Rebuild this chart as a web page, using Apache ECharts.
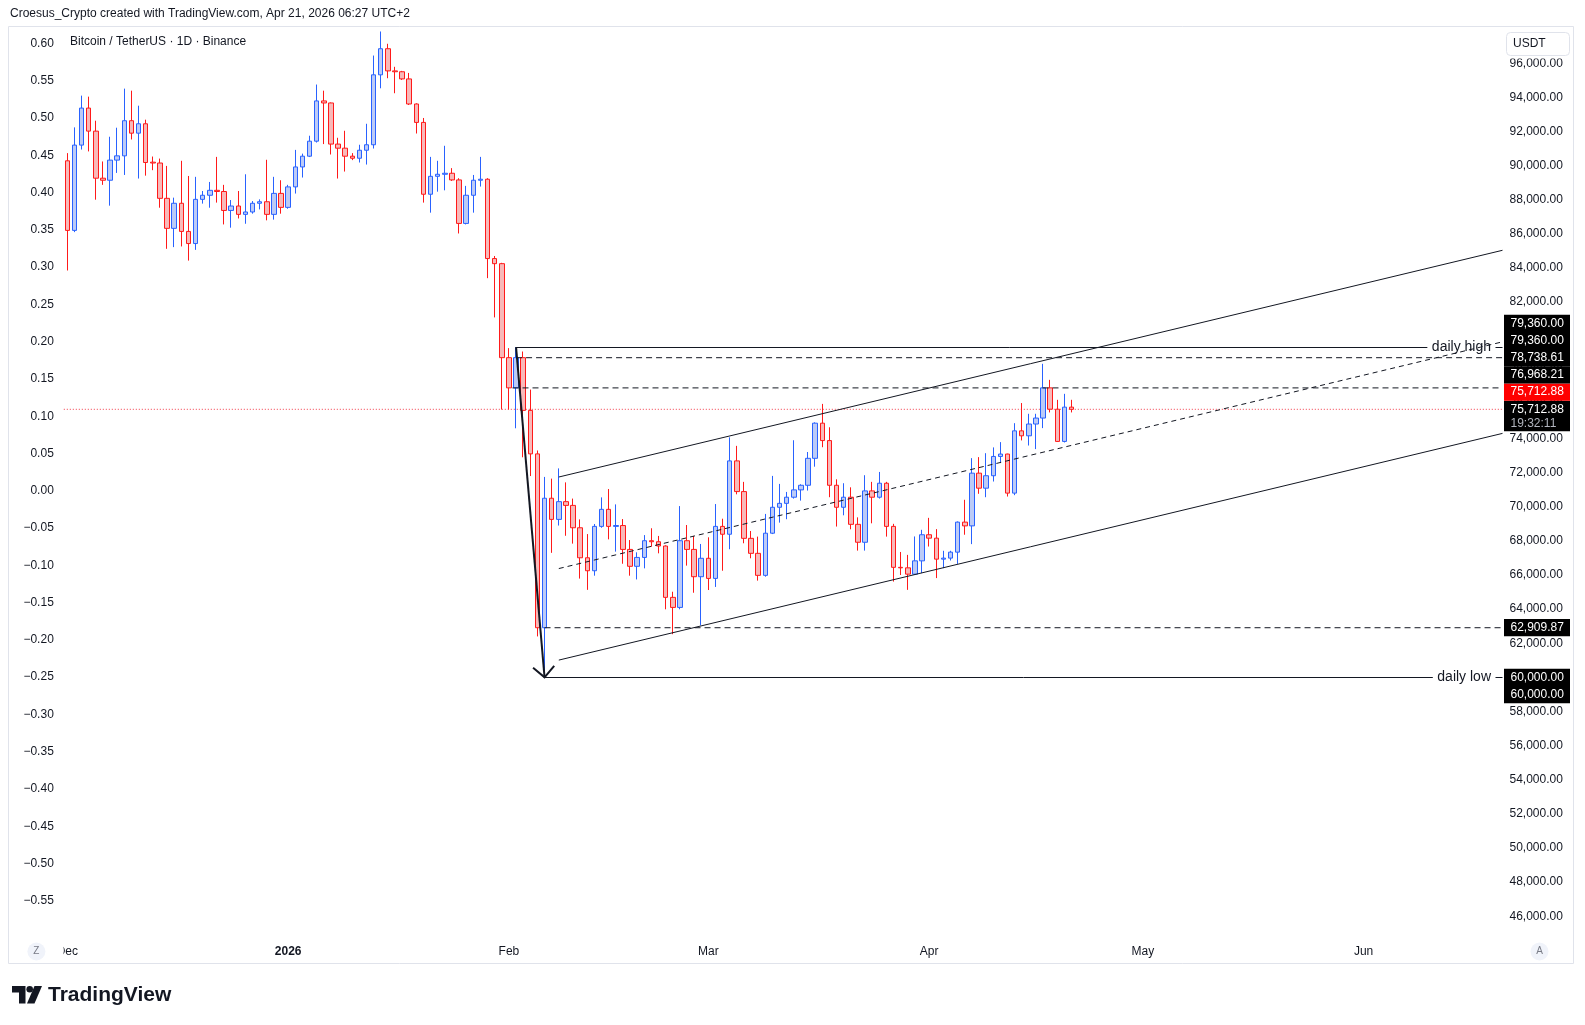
<!DOCTYPE html>
<html>
<head>
<meta charset="utf-8">
<script src="https://cdn.jsdelivr.net/npm/echarts@6/dist/echarts.min.js"></script>
<style>
  html, body { margin: 0; padding: 0; background: #fff; }
  #chart { width: 1585px; height: 1025px; }
</style>
</head>
<body>
<div id="chart"></div>
<script>
// ---- data ----
const FONT = '"Liberation Sans", Arial, sans-serif';

// one category per day, Dec 1 2025 .. Jun 20 2026
const firstDay = Date.UTC(2025, 11, 1);
const dayCount = 202;
const days = [];
for (let i = 0; i < dayCount; i++) {
  days.push(new Date(firstDay + i * 86400000).toISOString().slice(0, 10));
}
const monthLabels = {
  '2025-12-01': 'Dec', '2026-01-01': '2026', '2026-02-01': 'Feb', '2026-03-01': 'Mar',
  '2026-04-01': 'Apr', '2026-05-01': 'May', '2026-06-01': 'Jun'
};

// daily candles Dec 1 2025 .. Apr 21 2026
const opens = [
  90280, 86200, 91200, 93370, 92020, 89260, 89140, 90320, 90570, 92630, 91900, 92450, 90200, 90150, 88080, 86320,
  87790, 86140, 85430, 88020, 88260, 88550, 88480, 87370, 87630, 87140, 87280, 87790, 87880, 87140, 88370,
  87550, 88750, 89920, 90550, 91430, 93790, 93670, 91260, 91020, 90550, 90430, 90900, 91220, 95320, 96850, 95550,
  95500, 95080, 93610, 92530, 88320, 89370, 89490, 89550, 89160, 86610, 88260, 89140, 89200, 84550, 84250,
  78740, 76970, 78740, 75650, 73100, 62910, 70500, 69260, 70300, 70080, 68770, 67010, 66250, 68850, 69850, 68850,
  68900, 67500, 66510, 67030, 68010, 67950, 67700, 64690, 64100, 68010, 67500, 65900,
  66980, 65800, 68850, 68390, 72690, 70890, 68150, 67270, 65980, 68450, 69970, 70200, 70560, 70990, 71260, 72840,
  74900, 73880, 71260, 69970, 70560, 68970, 67920, 70930, 70560, 71380, 68850, 66450, 66420, 66050, 66830,
  68360, 68160, 66930, 66990, 67340, 69100, 68880, 71970, 71090, 71820, 72950, 73090, 70800, 74450, 74160, 74850,
  75200, 76970, 75720, 73830, 75840
];
const closes = [
  86200, 91200, 93370, 92020, 89260, 89140, 90320, 90570, 92630, 91900, 92450, 90180, 90150, 88080, 86320, 87790,
  86140, 85430, 88020, 88260, 88550, 88480, 87370, 87630, 87140, 87280, 87790, 87880, 87140, 88370, 87550,
  88750, 89920, 90550, 91430, 93790, 93670, 91260, 91020, 90550, 90430, 90900, 91220, 95320, 96850, 95550, 95500,
  95080, 93610, 92530, 88320, 89370, 89490, 89550, 89160, 86610, 88260, 89140, 89200, 84550, 84250, 78740,
  76970, 78740, 75650, 73100, 62910, 70500, 69260, 70300, 70080, 68770, 67010, 66250, 68850, 69850, 68850, 68900,
  67500, 66510, 67030, 68010, 67950, 67700, 64690, 64100, 68010, 67500, 65900, 66980,
  65800, 68850, 68390, 72690, 70890, 68150, 67270, 65980, 68450, 69970, 70200, 70560, 70990, 71260, 72840, 74900,
  73880, 71260, 69970, 70560, 68970, 67920, 70930, 70560, 71380, 68850, 66450, 66420, 66050, 66830, 68360,
  68160, 66930, 66990, 67340, 69100, 68880, 71970, 71090, 71820, 72950, 73090, 70800, 74450, 74160, 74850, 75200,
  76970, 75720, 73830, 75840, 75713
];
const lows = [
  83850, 86100, 90940, 90830, 88000, 88870, 87650, 89570, 89450, 91530, 89240, 89410, 89730, 87530, 85120, 85220,
  85260, 84430, 85060, 87770, 87530, 87830, 86550, 86360, 86900, 86590, 87180, 87430, 86790, 86830, 87180,
  87470, 88360, 89300, 90500, 91350, 91260, 90650, 89240, 89650, 90320, 90180, 90060, 91000, 94530, 95120, 94240,
  95020, 93550, 91880, 87830, 87240, 88470, 88550, 89100, 86020, 86550, 87240, 88770, 83400, 81100, 75700,
  75700, 74600, 72900, 71800, 62400, 60000, 67300, 68900, 68300, 67840, 65790, 65130, 65960, 68770, 68090, 67370,
  66660, 65960, 65740, 66390, 67660, 67270, 63990, 62530, 63990, 66550, 64960, 63050,
  65120, 65300, 66250, 67510, 70730, 67860, 66980, 65670, 65900, 68400, 69070, 69270, 70480, 70360, 70950, 72350,
  73490, 70560, 68840, 69500, 68680, 67430, 67430, 69030, 70480, 68250, 65615, 66000, 65130, 66010, 66110,
  67670, 65820, 66400, 66850, 66650, 68360, 67810, 70760, 70560, 71480, 72560, 70600, 70680, 73890, 73590, 73380,
  74610, 75530, 73800, 73770, 75530
];
const highs = [
  90730, 92240, 94100, 94040, 92630, 90240, 91690, 92220, 94510, 94390, 93510, 92690, 90530, 90410, 89980, 88120,
  90280, 89390, 89340, 88510, 89040, 90510, 88870, 87980, 88510, 89490, 87920, 88020, 90340, 89340, 89140,
  88870, 90920, 90700, 91750, 94750, 94390, 93700, 91630, 92040, 90730, 91220, 92450, 96450, 97860, 97140, 95790,
  95550, 95430, 93650, 92790, 90510, 90280, 91160, 89850, 89260, 88810, 89450, 90510, 89260, 84700, 84300,
  79300, 79360, 79100, 76870, 73300, 71750, 71650, 72250, 71430, 70480, 69260, 68400, 68990, 70550, 71040, 70140,
  69280, 68050, 67330, 68340, 68740, 68290, 67740, 65020, 70040, 68930, 68290, 67820,
  68210, 70160, 69300, 74070, 73570, 71460, 68580, 68250, 69580, 71810, 71340, 70870, 73900, 71320, 73210, 74950,
  76030, 74660, 71610, 71380, 71140, 69380, 71850, 71460, 72040, 71460, 69000, 67350, 67180, 68260, 68650,
  69350, 68690, 67420, 67420, 69140, 70410, 72850, 72910, 73140, 73480, 73790, 73110, 74900, 76080, 75450, 75450,
  78380, 77440, 76270, 76620, 76270
];

// drawings (day index from Dec 1, price)
const dailyHigh = 79360;
const dailyLow = 60000;
const lastPrice = 75712.88;
const levelPrices = [78738.61, 76968.21, 62909.87];
const levelStarts = [63, 62.5, 67];
const rayStarts = [63, 67];
const rayLabels = ['daily high', 'daily low'];
const arrowFrom = [63, dailyHigh];
const arrowTo = [67, dailyLow];
const channelDays = [69, 201.5];
const upperChannel = [71744, 85034];
const lowerChannel = [61012, 74302];
const middleChannel = [66378, 79668];
const countdown = '19:32:11';

// ---- chart ----
const candleData = opens.map((o, i) => [o, closes[i], lows[i], highs[i]]);
const fmtPrice = v => v.toLocaleString('en-US', { minimumFractionDigits: 2, maximumFractionDigits: 2 });
const fmtLeft = v => {
  if (Math.abs(v) < 1e-9) return '0.00';
  return (v < 0 ? '\u2212' : '') + Math.abs(v).toFixed(2);
};
const INK = '#131722';

const lineSeries = (name, data, type, color, z) => ({
  name, type: 'line', xAxisIndex: 1, yAxisIndex: 0, data, symbol: 'none', silent: true, z: z || 3,
  lineStyle: { color: color || INK, width: 1, type: type || 'solid' }
});

const chart = echarts.init(document.getElementById('chart'));
const option = {
  animation: false,
  backgroundColor: '#ffffff',
  textStyle: { fontFamily: FONT },
  grid: [
    { left: 63.8, right: 82.5, top: 29.1, height: 887.1 },
    { left: 63.8, right: 82.5, top: 43.5, height: 894.5 }
  ],
  xAxis: [
    {
      type: 'category', gridIndex: 0, data: days, boundaryGap: true,
      axisLine: { show: false }, axisTick: { show: false }, splitLine: { show: false },
      axisLabel: {
        interval: (i, v) => monthLabels[v] !== undefined,
        formatter: v => v === '2026-01-01' ? '{y|2026}' : monthLabels[v],
        margin: 29, color: INK, fontSize: 12, fontFamily: FONT,
        rich: { y: { fontWeight: 'bold', fontSize: 12, color: INK, fontFamily: FONT } }
      }
    },
    { type: 'value', gridIndex: 0, min: -0.5, max: dayCount - 0.5, show: false },
    { type: 'value', gridIndex: 1, min: 0, max: 1, show: false }
  ],
  yAxis: [
    {
      type: 'value', gridIndex: 0, position: 'right', min: 46000, max: 98000, interval: 2000,
      axisLine: { show: false }, axisTick: { show: false }, splitLine: { show: false },
      axisLabel: { margin: 7, color: INK, fontSize: 12, fontFamily: FONT, formatter: v => v >= 98000 ? '' : fmtPrice(v) }
    },
    {
      type: 'value', gridIndex: 1, position: 'left', min: -0.6, max: 0.6, interval: 0.05,
      axisLine: { show: false }, axisTick: { show: false }, splitLine: { show: false },
      axisLabel: { margin: 10, color: INK, fontSize: 12, fontFamily: FONT, formatter: v => v < -0.575 ? '' : fmtLeft(v) }
    }
  ],
  series: [
    {
      name: 'BTCUSDT', type: 'candlestick', xAxisIndex: 0, yAxisIndex: 0, data: candleData, barWidth: 5, z: 2,
      itemStyle: { color: '#bccbf7', color0: '#f8b9b9', borderColor: '#2962ff', borderColor0: '#ff1a1a', borderWidth: 1 }
    },
    lineSeries('last', [[-0.5, lastPrice], [dayCount - 0.5, lastPrice]], [1, 2], '#f23645', 1),
    lineSeries('lvl0', [[levelStarts[0], levelPrices[0]], [dayCount - 0.5, levelPrices[0]]], [6, 4]),
    lineSeries('lvl1', [[levelStarts[1], levelPrices[1]], [dayCount - 0.5, levelPrices[1]]], [6, 4]),
    lineSeries('lvl2', [[levelStarts[2], levelPrices[2]], [dayCount - 0.5, levelPrices[2]]], [6, 4]),
    lineSeries('upper', [[channelDays[0], upperChannel[0]], [channelDays[1], upperChannel[1]]]),
    lineSeries('lower', [[channelDays[0], lowerChannel[0]], [channelDays[1], lowerChannel[1]]]),
    lineSeries('middle', [[channelDays[0], middleChannel[0]], [channelDays[1], middleChannel[1]]], [5, 4], INK, 5),
    {
      name: 'rays', type: 'custom', xAxisIndex: 1, yAxisIndex: 0, z: 4, silent: true,
      data: rayStarts.map((d, i) => [d, i === 0 ? dailyHigh : dailyLow]),
      encode: { x: 0, y: 1 },
      renderItem: (params, api) => {
        const p = api.coord([api.value(0), api.value(1)]);
        const right = params.coordSys.x + params.coordSys.width;
        const y = Math.round(p[1]) + 0.5;
        return {
          type: 'group', children: [
            { type: 'line', shape: { x1: p[0], y1: y, x2: right, y2: y }, style: { stroke: INK, lineWidth: 1 } },
            {
              type: 'text', x: right - 7, y: y,
              style: {
                text: rayLabels[params.dataIndex], align: 'right', verticalAlign: 'middle',
                font: '14px ' + FONT, fill: INK, backgroundColor: '#fff', padding: [1, 4.5]
              }
            }
          ]
        };
      }
    },
    {
      name: 'arrow', type: 'custom', xAxisIndex: 1, yAxisIndex: 0, z: 6, silent: true,
      data: [[arrowFrom[0], arrowFrom[1], arrowTo[0], arrowTo[1]]],
      encode: { x: [0, 2], y: [1, 3] },
      renderItem: (params, api) => {
        const a = api.coord([api.value(0), api.value(1)]);
        const b = api.coord([api.value(2), api.value(3)]);
        const ang = Math.atan2(b[1] - a[1], b[0] - a[0]);
        const L = 15, s = Math.PI / 4;
        const w1 = [b[0] - L * Math.cos(ang - s), b[1] - L * Math.sin(ang - s)];
        const w2 = [b[0] - L * Math.cos(ang + s), b[1] - L * Math.sin(ang + s)];
        return {
          type: 'group', children: [
            { type: 'line', shape: { x1: a[0], y1: a[1], x2: b[0], y2: b[1] }, style: { stroke: INK, lineWidth: 2 } },
            { type: 'polyline', shape: { points: [w1, b, w2] }, style: { stroke: INK, lineWidth: 2, fill: 'none' } }
          ]
        };
      }
    }
  ]
};
chart.setOption(option);

// ---- frame, header, price tags on the right axis ----
const yOf = v => chart.convertToPixel({ yAxisIndex: 0 }, v);
const TAG_H = 17.2;
const tagX = 1504, tagW = 66;
const graphics = [
  { type: 'rect', shape: { x: 8.5, y: 26.5, width: 1565, height: 937 }, style: { fill: 'none', stroke: '#e0e3eb', lineWidth: 1 }, z: 0 },
  { type: 'text', x: 10, y: 14, style: { text: 'Croesus_Crypto created with TradingView.com, Apr 21, 2026 06:27 UTC+2', font: '12px ' + FONT, fill: INK, verticalAlign: 'middle' } },
  { type: 'text', x: 70, y: 42, style: { text: 'Bitcoin / TetherUS \u00b7 1D \u00b7 Binance', font: '12px ' + FONT, fill: INK, verticalAlign: 'middle' } },
  // hide the part of the time axis left of the pane
  { type: 'rect', shape: { x: 9, y: 940, width: 54.5, height: 22 }, style: { fill: '#fff' }, z: 50 },
  { type: 'circle', shape: { cx: 36.4, cy: 951.5, r: 9 }, style: { fill: '#f0f3fa' }, z: 51 },
  { type: 'text', x: 36.4, y: 951.5, style: { text: 'Z', font: '10px ' + FONT, fill: '#787b86', align: 'center', verticalAlign: 'middle' }, z: 52 },
  { type: 'circle', shape: { cx: 1539.5, cy: 951.5, r: 9 }, style: { fill: '#f0f3fa' }, z: 51 },
  { type: 'text', x: 1539.5, y: 951.5, style: { text: 'A', font: '10px ' + FONT, fill: '#787b86', align: 'center', verticalAlign: 'middle' }, z: 52 },
  // USDT button
  { type: 'rect', shape: { x: 1503, y: 27.5, width: 69, height: 31 }, style: { fill: '#fff' }, z: 50 },
  { type: 'rect', shape: { x: 1506.5, y: 32.5, width: 63, height: 23, r: 4 }, style: { fill: '#fff', stroke: '#e0e3eb', lineWidth: 1 }, z: 51 },
  { type: 'text', x: 1513, y: 44, style: { text: 'USDT', font: '12px ' + FONT, fill: INK, verticalAlign: 'middle' }, z: 52 },
  // TradingView logo
  { type: 'polygon', shape: { points: [[12, 986], [25.5, 986], [25.5, 1003.5], [19, 1003.5], [19, 992.5], [12, 992.5]] }, style: { fill: INK } },
  { type: 'circle', shape: { cx: 29.7, cy: 989.3, r: 3.3 }, style: { fill: INK } },
  { type: 'polygon', shape: { points: [[34.5, 986], [42, 986], [34.5, 1003.5], [27, 1003.5]] }, style: { fill: INK } },
  { type: 'text', x: 48, y: 995, style: { text: 'TradingView', font: 'bold 21px ' + FONT, fill: INK, verticalAlign: 'middle' } }
];

// price tags: the last price tag keeps its place, others stack away from it
const tagsAbove = [lastPrice, levelPrices[1], levelPrices[0], dailyHigh, dailyHigh];
const tagsBelow = [levelPrices[2], dailyLow, dailyLow];
const lastY = yOf(lastPrice);
const tagBoxes = [];
tagBoxes.push({ price: lastPrice, y: lastY, fill: '#000', last: true });
let stackTop = lastY - TAG_H / 2;
tagsAbove.forEach((p, i) => {
  const y = Math.min(yOf(p), stackTop - TAG_H / 2);
  tagBoxes.push({ price: p, y, fill: i === 0 ? '#ff0000' : '#000' });
  stackTop = y - TAG_H / 2;
});
let stackBottom = lastY - TAG_H / 2 + 30.5;
tagsBelow.forEach(p => {
  const y = Math.max(yOf(p), stackBottom + TAG_H / 2);
  tagBoxes.push({ price: p, y, fill: '#000' });
  stackBottom = y + TAG_H / 2;
});
tagBoxes.forEach(t => {
  const h = t.last ? 30.5 : TAG_H;
  graphics.push({ type: 'rect', shape: { x: tagX, y: t.y - TAG_H / 2, width: tagW, height: h }, style: { fill: t.fill }, z: 60 });
  graphics.push({ type: 'text', x: tagX + 6.5, y: t.y, style: { text: fmtPrice(t.price), font: '12px ' + FONT, fill: '#fff', verticalAlign: 'middle' }, z: 61 });
  if (t.last) {
    graphics.push({ type: 'text', x: tagX + 6.5, y: t.y + 14, style: { text: countdown, font: '12px ' + FONT, fill: '#b2b5be', verticalAlign: 'middle' }, z: 61 });
  }
});
chart.setOption({ graphic: graphics });
</script>
</body>
</html>
